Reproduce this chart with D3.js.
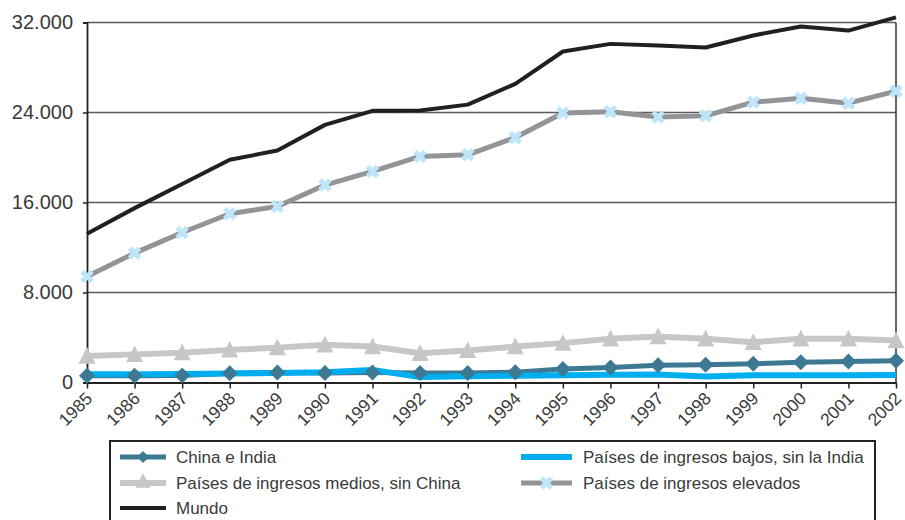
<!DOCTYPE html>
<html>
<head>
<meta charset="utf-8">
<script src="https://cdn.jsdelivr.net/npm/d3@7"></script>
<style>
  body { margin: 0; background: #fff; }
  svg { display: block; font-family: "Liberation Sans", Arial, sans-serif; }
</style>
</head>
<body>
<svg id="chart" width="905" height="520"></svg>
<script>
// Years on the horizontal axis
const years = [1985, 1986, 1987, 1988, 1989, 1990, 1991, 1992, 1993, 1994,
               1995, 1996, 1997, 1998, 1999, 2000, 2001, 2002];

// Series values
const chinaIndia = [600, 600, 620, 830, 880, 840, 880, 840, 840, 920,
                    1190, 1330, 1540, 1570, 1660, 1800, 1870, 1930];
const bajosSinIndia = [730, 740, 760, 800, 840, 920, 1120, 480, 560, 600,
                       640, 680, 720, 540, 640, 640, 650, 670];
const mediosSinChina = [2350, 2500, 2650, 2900, 3100, 3350, 3200, 2600, 2850, 3200,
                        3500, 3880, 4080, 3880, 3580, 3880, 3880, 3730];
const elevados = [9420, 11500, 13330, 15000, 15640, 17550, 18760, 20090, 20240, 21780,
                  23950, 24070, 23600, 23700, 24920, 25270, 24830, 25900];
const mundo = [13220, 15500, 17650, 19800, 20620, 22900, 24150, 24180, 24700, 26550,
               29420, 30100, 29960, 29780, 30850, 31650, 31280, 32450];

// Axis ticks
const yTicks = [0, 8000, 16000, 24000, 32000];
const yTickLabels = ["0", "8.000", "16.000", "24.000", "32.000"];

const svg = d3.select("#chart");

const x = d3.scalePoint().domain(years).range([87, 896]);
const y = d3.scaleLinear().domain([0, 32000]).range([382.5, 22.5]);

// Gridlines
svg.append("g").selectAll("line")
  .data(yTicks.filter(d => d > 0))
  .join("line")
  .attr("x1", 87).attr("x2", 896)
  .attr("y1", d => y(d)).attr("y2", d => y(d))
  .attr("stroke", "#5a5a5a").attr("stroke-width", 1.5);

// Right border of the plot area
svg.append("line")
  .attr("x1", 896).attr("x2", 896)
  .attr("y1", y(32000)).attr("y2", y(0))
  .attr("stroke", "#333").attr("stroke-width", 1.5);

// Y axis
const yAxis = d3.axisLeft(y).tickValues(yTicks)
  .tickFormat((d, i) => yTickLabels[i]).tickSize(4).tickPadding(10);
const gy = svg.append("g").attr("transform", "translate(87,0)").call(yAxis);
gy.select(".domain").attr("stroke", "#222").attr("stroke-width", 1.8);
gy.selectAll(".tick line").attr("stroke", "#222").attr("stroke-width", 1.5);
gy.selectAll(".tick text").attr("font-size", 20).attr("fill", "#3a3a3a")
  .attr("font-family", "Liberation Sans, Arial, sans-serif");

// X axis with slanted year labels
const xAxis = d3.axisBottom(x).tickSize(6).tickPadding(4).tickSizeOuter(0);
const gx = svg.append("g").attr("transform", `translate(0,${y(0)})`).call(xAxis);
gx.select(".domain").attr("stroke", "#222").attr("stroke-width", 2);
gx.selectAll(".tick line").attr("stroke", "#222").attr("stroke-width", 1.5);
gx.selectAll(".tick text")
  .attr("font-size", 17.5).attr("fill", "#3a3a3a")
  .attr("font-family", "Liberation Sans, Arial, sans-serif")
  .attr("text-anchor", "end")
  .attr("x", 0).attr("y", 0).attr("dy", 0)
  .attr("transform", "translate(6,17) rotate(-45)");

// Marker shapes
const diamondPath = s => `M0,${-s}L${s},0L0,${s}L${-s},0Z`;
const trianglePath = s => `M0,${-s}L${s * 0.95},${s * 0.85}L${-s * 0.95},${s * 0.85}Z`;

function drawLine(values, color, width) {
  const line = d3.line().x((d, i) => x(years[i])).y(d => y(d));
  return svg.append("path")
    .datum(values)
    .attr("d", line)
    .attr("fill", "none")
    .attr("stroke", color)
    .attr("stroke-width", width)
    .attr("stroke-linejoin", "round");
}

function drawXMarkers(g, pts, color) {
  const m = g.selectAll("g.xm").data(pts).join("g")
    .attr("transform", d => `translate(${d[0]},${d[1]})`);
  m.append("line").attr("x1", -5).attr("y1", -5).attr("x2", 5).attr("y2", 5)
    .attr("stroke", color).attr("stroke-width", 5);
  m.append("line").attr("x1", -5).attr("y1", 5).attr("x2", 5).attr("y2", -5)
    .attr("stroke", color).attr("stroke-width", 5);
}

const pts = vals => vals.map((v, i) => [x(years[i]), y(v)]);

// Lines
drawLine(mediosSinChina, "#c6c7c9", 6);
drawLine(chinaIndia, "#3d7993", 5);
drawLine(bajosSinIndia, "#00aeef", 6);
drawLine(elevados, "#929497", 5);
drawLine(mundo, "#231f20", 4);

// Markers
svg.append("g").selectAll("path").data(pts(mediosSinChina)).join("path")
  .attr("d", trianglePath(9))
  .attr("transform", d => `translate(${d[0]},${d[1]})`)
  .attr("fill", "#c6c7c9");
svg.append("g").selectAll("path").data(pts(chinaIndia)).join("path")
  .attr("d", diamondPath(8))
  .attr("transform", d => `translate(${d[0]},${d[1]})`)
  .attr("fill", "#3d7993");
drawXMarkers(svg.append("g"), pts(elevados), "#bfe6f8");

// Legend
const legend = svg.append("g");
legend.append("path")
  .attr("d", "M110,530V441H875V530")
  .attr("fill", "none").attr("stroke", "#222").attr("stroke-width", 2);

const legendItems = [
  { label: "China e India", color: "#3d7993", w: 5, marker: "diamond", x: 120, len: 46, tx: 176, y: 457 },
  { label: "Países de ingresos bajos, sin la India", color: "#00aeef", w: 6, marker: null, x: 521, len: 51, tx: 583, y: 457 },
  { label: "Países de ingresos medios, sin China", color: "#c6c7c9", w: 6, marker: "triangle", x: 120, len: 46, tx: 176, y: 483 },
  { label: "Países de ingresos elevados", color: "#929497", w: 5, marker: "x", x: 521, len: 51, tx: 583, y: 483 },
  { label: "Mundo", color: "#231f20", w: 4, marker: null, x: 120, len: 46, tx: 176, y: 508 }
];

legendItems.forEach(it => {
  const g = legend.append("g");
  g.append("line")
    .attr("x1", it.x).attr("x2", it.x + it.len)
    .attr("y1", it.y).attr("y2", it.y)
    .attr("stroke", it.color).attr("stroke-width", it.w);
  const cx = it.x + it.len / 2;
  if (it.marker === "diamond") {
    g.append("path").attr("d", diamondPath(6)).attr("fill", it.color)
      .attr("transform", `translate(${cx},${it.y})`);
  } else if (it.marker === "triangle") {
    g.append("path").attr("d", trianglePath(8)).attr("fill", it.color)
      .attr("transform", `translate(${cx},${it.y - 2})`);
  } else if (it.marker === "x") {
    drawXMarkers(g, [[cx, it.y]], "#bfe6f8");
  }
  g.append("text")
    .attr("x", it.tx).attr("y", it.y)
    .attr("dy", "0.35em")
    .attr("font-size", 17)
    .attr("fill", "#3a3a3a")
    .text(it.label);
});
</script>
</body>
</html>
